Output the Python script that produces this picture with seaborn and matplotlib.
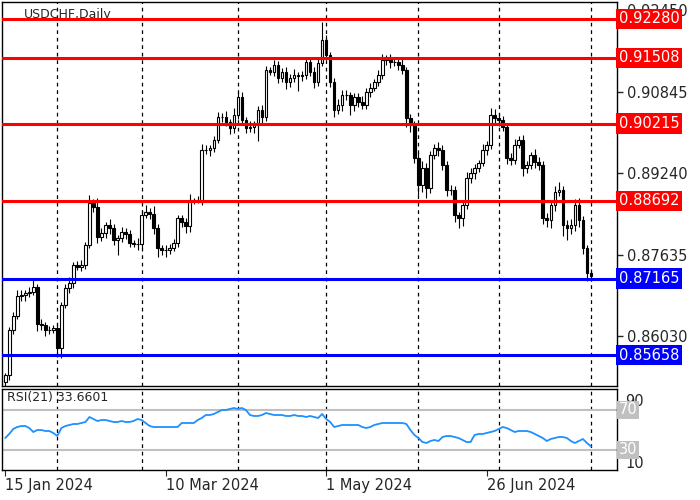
import matplotlib
matplotlib.use('Agg')
import matplotlib.pyplot as plt
import seaborn as sns
import pandas as pd
import numpy as np

# daily closes USDCHF
closes = [
    0.8526, 0.8615, 0.8642, 0.8682, 0.8684, 0.8688, 0.8690, 0.8699, 0.8628, 0.8625,
    0.8615, 0.8615, 0.8619, 0.8579, 0.8664, 0.8697, 0.8707, 0.8743, 0.8739, 0.8743,
    0.8782, 0.8865, 0.8857, 0.8798, 0.8806, 0.8822, 0.8816, 0.8792, 0.8796, 0.8808,
    0.8804, 0.8786, 0.8784, 0.8784, 0.8841, 0.8847, 0.8843, 0.8816, 0.8776, 0.8772,
    0.8772, 0.8776, 0.8786, 0.8835, 0.8827, 0.8819, 0.8871, 0.8871, 0.8871, 0.8969,
    0.8969, 0.8973, 0.8989, 0.9034, 0.9034, 0.9024, 0.9013, 0.9038, 0.9074, 0.9028,
    0.9013, 0.9015, 0.9018, 0.9048, 0.9034, 0.9127, 0.9123, 0.9137, 0.9111, 0.9123,
    0.9103, 0.9111, 0.9117, 0.9115, 0.9117, 0.9143, 0.9123, 0.9103, 0.9141, 0.9186,
    0.9156, 0.9103, 0.9048, 0.9058, 0.9078, 0.9078, 0.9058, 0.9074, 0.9064, 0.9058,
    0.9084, 0.9092, 0.9103, 0.9117, 0.9147, 0.9150, 0.9143, 0.9143, 0.9137, 0.9127,
    0.9032, 0.9018, 0.8953, 0.8900, 0.8934, 0.8894, 0.8959, 0.8973, 0.8969, 0.8940,
    0.8890, 0.8890, 0.8841, 0.8835, 0.8861, 0.8914, 0.8924, 0.8934, 0.8944, 0.8969,
    0.8979, 0.9038, 0.9032, 0.9028, 0.9015, 0.8953, 0.8950, 0.8979, 0.8989, 0.8934,
    0.8940, 0.8959, 0.8946, 0.8940, 0.8835, 0.8831, 0.8861, 0.8886, 0.8890, 0.8821,
    0.8816, 0.8821, 0.8861, 0.8831, 0.8776, 0.8728, 0.8721,
]
first_open = 0.8512

# wick sizes in pips (above body / below body)
wick_up = [
    4, 6, 8, 12, 10, 6, 9, 14, 6, 8,
    5, 9, 7, 10, 6, 8, 12, 7, 9, 10,
    6, 16, 9, 18, 10, 6, 12, 8, 6, 9,
    7, 8, 6, 12, 10, 14, 9, 16, 7, 6,
    10, 8, 9, 6, 7, 9, 12, 5, 8, 12,
    10, 6, 8, 10, 8, 12, 6, 14, 8, 9,
    7, 11, 8, 9, 10, 8, 6, 10, 8, 7,
    10, 8, 12, 6, 8, 10, 7, 9, 12, 35,
    10, 6, 8, 12, 9, 10, 6, 8, 7, 12,
    8, 10, 6, 9, 12, 6, 8, 6, 8, 12,
    6, 8, 9, 12, 14, 10, 8, 8, 12, 10,
    8, 10, 9, 7, 8, 12, 10, 8, 6, 12,
    8, 14, 12, 10, 8, 6, 10, 12, 8, 10,
    8, 6, 12, 10, 8, 10, 9, 12, 16, 8,
    10, 12, 12, 14, 8, 6, 8,
]
wick_dn = [
    28, 10, 8, 6, 10, 12, 8, 6, 14, 10,
    12, 8, 6, 16, 18, 6, 8, 10, 6, 8,
    8, 6, 10, 12, 8, 10, 12, 10, 30, 8,
    10, 8, 6, 12, 8, 6, 10, 12, 18, 10,
    14, 8, 6, 8, 10, 12, 10, 8, 6, 10,
    8, 12, 8, 6, 10, 8, 12, 10, 8, 10,
    10, 8, 12, 30, 12, 8, 6, 8, 10, 8,
    14, 10, 8, 30, 10, 8, 8, 12, 8, 6,
    8, 10, 14, 8, 12, 10, 20, 12, 10, 8,
    8, 10, 6, 8, 8, 10, 12, 8, 10, 8,
    18, 14, 10, 20, 14, 18, 10, 8, 12, 10,
    12, 10, 14, 20, 16, 8, 10, 12, 8, 6,
    10, 8, 10, 12, 8, 12, 10, 8, 6, 16,
    10, 8, 12, 10, 12, 14, 16, 12, 8, 20,
    24, 12, 10, 14, 12, 16, 10,
]

rsi = [
    42, 46, 51, 53, 54, 54, 52, 48, 50, 50,
    49, 49, 47, 44, 52, 54, 55, 56, 56, 57,
    58, 63, 61, 59, 60, 60, 59, 58, 58, 59,
    58, 58, 59, 61, 60, 57, 54, 53, 53, 53,
    53, 53, 53, 53, 57, 57, 57, 57, 60, 62,
    65, 65, 66, 68, 70, 70, 71, 72, 71, 72,
    70, 65, 64, 64, 65, 67, 66, 65, 65, 65,
    64, 64, 65, 64, 64, 63, 64, 63, 62, 66,
    61, 58, 53, 54, 55, 55, 55, 55, 55, 53,
    52, 53, 55, 56, 57, 57, 57, 57, 57, 57,
    56, 50, 45, 42, 38, 37, 39, 40, 39, 43,
    44, 44, 43, 42, 40, 38, 38, 45, 46, 46,
    47, 48, 49, 51, 53, 52, 50, 48, 49, 49,
    49, 48, 46, 44, 42, 39, 41, 42, 43, 43,
    42, 39, 37, 39, 41, 37, 33.66,
]

resist_levels = [0.92280, 0.91508, 0.90215, 0.88692]
support_levels = [0.87165, 0.85658]
price_ticks = [0.92450, 0.90845, 0.89240, 0.87635, 0.86030]
date_labels = ['15 Jan 2024', '10 Mar 2024', '1 May 2024', '26 Jun 2024']
date_idx = [0, 40, 80, 120]
grid_idx = [13, 34, 58, 80, 103, 123, 146]

n = len(closes)
opens = [first_open] + closes[:-1]
df = pd.DataFrame({'i': np.arange(n), 'open': opens, 'close': closes,
                   'up': wick_up[:n], 'dn': wick_dn[:n], 'rsi': rsi[:n]})
df['hi'] = df[['open', 'close']].max(axis=1) + df['up'] * 0.0001
df['lo'] = df[['open', 'close']].min(axis=1) - df['dn'] * 0.0001

sns.set_style('white')
plt.rcParams['font.family'] = ['DejaVu Sans']

fig = plt.figure(figsize=(7, 5), dpi=100)
ax = fig.add_axes([2 / 700, 114 / 500, 615 / 700, 384 / 500])
ax2 = fig.add_axes([2 / 700, 30 / 500, 615 / 700, 81 / 500])
xlim = (-0.8, 152.5)

# candles
ax.vlines(df['i'], df['lo'], df['hi'], color='black', lw=0.8, zorder=3)
bull = df[df['close'] >= df['open']]
bear = df[df['close'] < df['open']]
ax.bar(bull['i'], bull['close'] - bull['open'], bottom=bull['open'], width=0.65,
       color='white', edgecolor='black', lw=0.8, zorder=4)
ax.bar(bear['i'], bear['open'] - bear['close'], bottom=bear['close'], width=0.65,
       color='black', edgecolor='black', lw=0.8, zorder=4)

for lv in resist_levels:
    ax.axhline(lv, color='red', lw=2.2, zorder=5)
for lv in support_levels:
    ax.axhline(lv, color='#0000ff', lw=2.2, zorder=5)
for g in grid_idx:
    ax.axvline(g, color='black', lw=0.9, ls=(0, (3, 3)), zorder=1)
    ax2.axvline(g, color='black', lw=0.9, ls=(0, (3, 3)), zorder=1)

ax.set_xlim(*xlim)
ax.set_ylim(0.8505, 0.92608)
ax.set_xticks([])
ax.yaxis.tick_right()
ax.set_yticks(price_ticks)
ax.set_yticklabels([f'{t:.5f}' for t in price_ticks], fontsize=10.5)
ax.tick_params(axis='y', length=4, width=1, direction='out', pad=3, right=True)
for lv, c in [(l, 'red') for l in resist_levels] + [(l, '#0000ff') for l in support_levels]:
    ax.text(1.003, lv, f'{lv:.5f}', transform=ax.get_yaxis_transform(), color='white',
            fontsize=10.5, va='center', ha='left', zorder=10, clip_on=False,
            bbox=dict(boxstyle='square,pad=0.18', fc=c, ec='none'))
ax.text(0.035, 0.985, 'USDCHF,Daily', transform=ax.transAxes, fontsize=9, va='top')

# RSI panel
ax2.axhline(70, color='#c0c0c0', lw=1.5)
ax2.axhline(30, color='#c0c0c0', lw=1.5)
sns.lineplot(data=df, x='i', y='rsi', ax=ax2, color='#1e90ff', lw=1.3)
ax2.set_xlim(*xlim)
ax2.set_ylim(10, 91)
ax2.yaxis.tick_right()
ax2.set_yticks([80, 18])
ax2.set_yticklabels(['90', '10'], fontsize=10.5)
ax2.tick_params(axis='y', length=0, pad=6, right=True)
for lv in [70, 30]:
    ax2.text(1.003, lv, str(lv), transform=ax2.get_yaxis_transform(), color='white',
             fontsize=10.5, va='center', ha='left',
             bbox=dict(boxstyle='square,pad=0.1', fc='#c0c0c0', ec='none'))
ax2.text(0.008, 0.97, 'RSI(21) 33.6601', transform=ax2.transAxes, fontsize=9, va='top')
ax2.set_xticks(date_idx)
ax2.set_xticklabels(date_labels, fontsize=10.5, ha='left')
ax2.tick_params(axis='x', length=4, pad=2, bottom=True)
ax2.set_xlabel('')
ax2.set_ylabel('')

for a in (ax, ax2):
    for s in a.spines.values():
        s.set_color('black')
        s.set_linewidth(1)

fig.savefig('out.png', dpi=100)
